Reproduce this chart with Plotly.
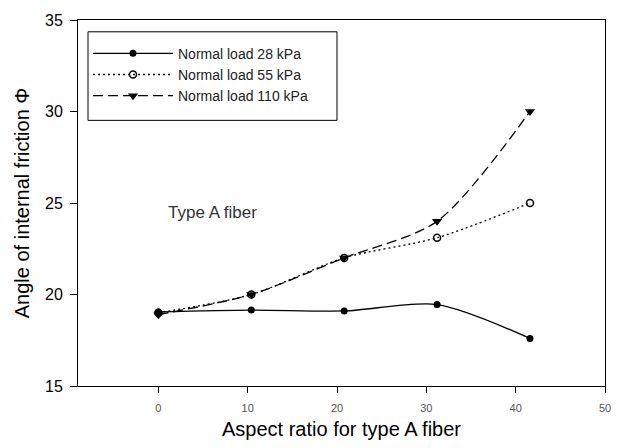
import plotly.graph_objects as go

# Aspect ratios of type A fiber and the internal friction angle at each normal load
aspect_ratio = [0, 10.4, 20.8, 31.2, 41.6]
phi_28kpa = [19.05, 19.15, 19.1, 19.45, 17.6]
phi_55kpa = [19.0, 20.0, 22.0, 23.1, 25.0]
phi_110kpa = [18.9, 20.0, 22.0, 24.0, 30.0]

x_ticks = [0, 10, 20, 30, 40, 50]
y_ticks = [15, 20, 25, 30, 35]

font_family = "Liberation Sans, Arial, sans-serif"

# plot area geometry (pixels) used to place the legend frame
W, H = 627, 448
ML, MR, MT, MB = 78, 22, 15, 61
PW, PH = W - ML - MR, H - MT - MB


def px_x(p):
    return (p - ML) / PW


def px_y(p):
    return (H - MB - p) / PH


fig = go.Figure()

fig.add_trace(go.Scatter(
    x=aspect_ratio, y=phi_28kpa, name="Normal load 28 kPa",
    mode="lines+markers",
    line=dict(color="black", width=1.3, dash="solid", shape="spline", smoothing=0.8),
    marker=dict(symbol="circle", size=7, color="black"),
))
fig.add_trace(go.Scatter(
    x=aspect_ratio, y=phi_55kpa, name="Normal load 55 kPa",
    mode="lines+markers",
    line=dict(color="black", width=1.3, dash="2px,3px", shape="spline", smoothing=0.8),
    marker=dict(symbol="circle-open", size=7, color="black", line=dict(width=1.5)),
))
fig.add_trace(go.Scatter(
    x=aspect_ratio, y=phi_110kpa, name="Normal load 110 kPa",
    mode="lines+markers",
    line=dict(color="black", width=1.3, dash="10px,5px", shape="spline", smoothing=0.8),
    marker=dict(symbol="triangle-down", size=9, color="black"),
))

fig.add_annotation(
    x=0.8, y=24.5, xref="x", yref="y", text="Type A fiber",
    showarrow=False, xanchor="left", yanchor="middle",
    font=dict(family=font_family, size=17, color="#333"),
)

# legend frame
fig.add_shape(
    type="rect", xref="paper", yref="paper",
    x0=px_x(88), x1=px_x(337), y0=px_y(117), y1=px_y(27),
    line=dict(color="black", width=1), fillcolor="rgba(0,0,0,0)", layer="above",
)

fig.update_layout(
    width=W, height=H,
    margin=dict(l=ML, r=MR, t=MT, b=MB),
    paper_bgcolor="white", plot_bgcolor="white",
    font=dict(family=font_family, color="black"),
    showlegend=True,
    legend=dict(
        x=px_x(88), y=px_y(33), xanchor="left", yanchor="top",
        borderwidth=0, bgcolor="rgba(0,0,0,0)",
        font=dict(family=font_family, size=14, color="#222"),
        itemwidth=80, tracegroupgap=0,
    ),
    xaxis=dict(
        range=[-9, 50], tickvals=x_ticks, ticktext=[str(v) for v in x_ticks],
        showgrid=False, zeroline=False, showline=True, linecolor="black", linewidth=1,
        mirror=True, ticks="outside", ticklen=6, tickcolor="black",
        tickfont=dict(size=11, color="#555"), ticklabelstandoff=6,
        title=dict(text="Aspect ratio for type A fiber", font=dict(size=20), standoff=8),
    ),
    yaxis=dict(
        range=[15, 35], tickvals=y_ticks,
        showgrid=False, zeroline=False, showline=True, linecolor="black", linewidth=1,
        mirror=True, ticks="outside", ticklen=7, tickcolor="black",
        tickfont=dict(size=16, color="black"), ticklabelstandoff=4,
        title=dict(text="Angle of internal friction Φ", font=dict(size=20), standoff=10),
    ),
)

fig.write_html("out.html")
